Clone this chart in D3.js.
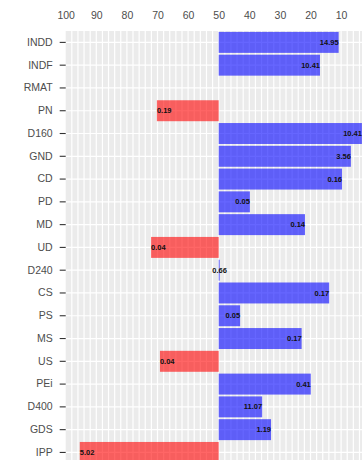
<!DOCTYPE html>
<html>
<head>
<meta charset="utf-8">
<script src="https://cdn.jsdelivr.net/npm/d3@7"></script>
<style>
    body { margin: 0; background: #fff; }
    svg { display: block; font-family: "Liberation Sans", Arial, sans-serif; }
</style>
</head>
<body>
<svg id="chart"></svg>
<script>
// categories top to bottom
const categories = ["INDD", "INDF", "RMAT", "PN", "D160", "GND", "CD", "PD", "MD", "UD",
                    "D240", "CS", "PS", "MS", "US", "PEi", "D400", "GDS", "IPP"];
// bar end on the reversed 100..0 scale (bars start at 50), null = no bar
const scores = [10.8, 16.9, null, 70.2, 3.2, 6.8, 9.7, 39.8, 21.8, 72.1,
                49.7, 13.9, 43.0, 22.9, 69.2, 19.9, 35.8, 32.9, 95.4];
// numbers printed on the bars
const labels = ["14.95", "10.41", "", "0.19", "10.41", "3.56", "0.16", "0.05", "0.14", "0.04",
                "0.66", "0.17", "0.05", "0.17", "0.04", "0.41", "11.07", "1.19", "5.02"];
const xTicks = [100, 90, 80, 70, 60, 50, 40, 30, 20, 10];

const width = 362,
      height = 460,
      marginLeft = 65.7,
      marginTop = 31,
      svg = d3.select("#chart")
              .attr("width", width)
              .attr("height", height);

const x = d3.scaleLinear()
    .domain([100, 0])
    .range([marginLeft, marginLeft + 100 * 3.06]);

const y = d3.scaleBand()
    .domain(categories)
    .range([marginTop, marginTop + categories.length * 22.78])
    .paddingInner(0.08)
    .paddingOuter(0.04);

const rows = categories.map((c, i) => ({cat: c, value: scores[i], label: labels[i]}));

// panel background + grid
svg.append("rect")
    .attr("x", x(100))
    .attr("y", marginTop)
    .attr("width", x(0) - x(100))
    .attr("height", height - marginTop + 20)
    .attr("fill", "#ebebeb");

svg.append("g").selectAll("line")
    .data(d3.range(2, 100, 2))
    .enter().append("line")
        .attr("x1", (d) => x(d))
        .attr("x2", (d) => x(d))
        .attr("y1", marginTop)
        .attr("y2", height)
        .attr("stroke", "#fff")
        .attr("stroke-width", 1.2);

svg.append("g").selectAll("line")
    .data(categories)
    .enter().append("line")
        .attr("x1", x(100))
        .attr("x2", width)
        .attr("y1", (d) => y(d) + y.bandwidth() / 2)
        .attr("y2", (d) => y(d) + y.bandwidth() / 2)
        .attr("stroke", "#fff")
        .attr("stroke-width", 1.2);

// bars
const bar = svg.append("g").selectAll(".bar")
    .data(rows.filter((d) => d.value !== null))
    .enter().append("g")
        .attr("class", "bar");

bar.append("rect")
    .attr("x", (d) => Math.min(x(d.value), x(50)))
    .attr("y", (d) => y(d.cat))
    .attr("width", (d) => Math.max(1, Math.abs(x(d.value) - x(50))))
    .attr("height", y.bandwidth())
    .attr("fill", (d) => d.value < 50 ? "#0000ff" : "#ff0000")
    .attr("fill-opacity", 0.6);

bar.append("text")
    .attr("x", (d) => x(d.value))
    .attr("y", (d) => y(d.cat) + y.bandwidth() / 2)
    .attr("dy", "0.35em")
    .attr("text-anchor", (d) => Math.abs(d.value - 50) < 2 ? "middle" : (d.value < 50 ? "end" : "start"))
    .style("font-size", "7.5px")
    .style("font-weight", "bold")
    .attr("fill", "#111")
    .text((d) => d.label);

// axes
const yAxis = svg.append("g")
    .attr("transform", `translate(${marginLeft},0)`)
    .call(d3.axisLeft(y).tickSize(6).tickPadding(7));
yAxis.select(".domain").remove();
yAxis.selectAll(".tick line").attr("stroke", "#333").attr("stroke-width", 1.1);
yAxis.selectAll("text").attr("fill", "#4d4d4d").style("font-size", "10.5px");

const xAxis = svg.append("g")
    .attr("transform", `translate(0,${marginTop})`)
    .call(d3.axisTop(x).tickValues(xTicks).tickSize(0).tickPadding(12.3));
xAxis.select(".domain").remove();
xAxis.selectAll("text").attr("fill", "#4d4d4d").style("font-size", "10.5px");
</script>
</body>
</html>
